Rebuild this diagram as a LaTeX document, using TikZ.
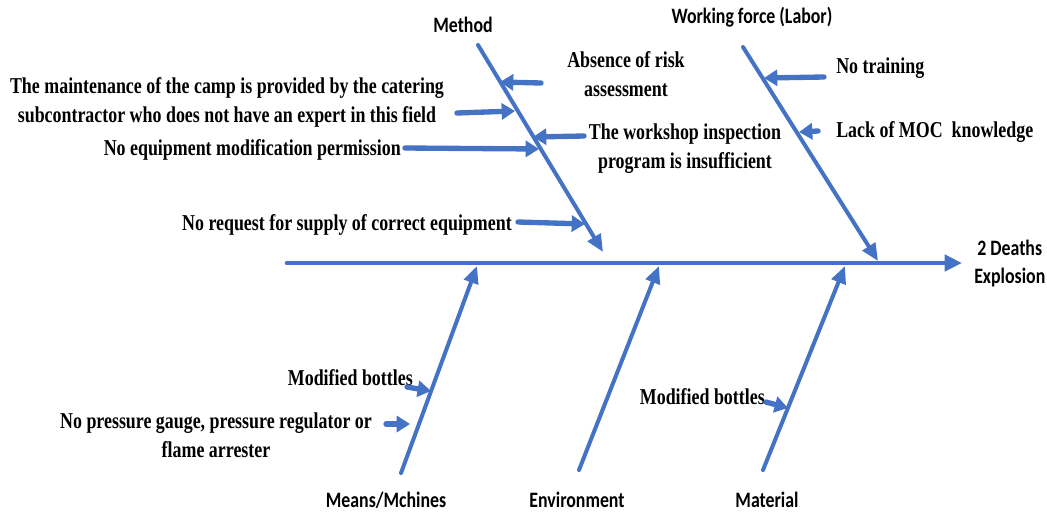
\documentclass[tikz,border=0pt]{standalone}
\usepackage{fontspec}
\usetikzlibrary{arrows.meta}
\newfontfamily\causefont{Liberation Serif}[FakeStretch=0.79]
\newfontfamily\headfont{Carlito}[FakeStretch=0.81]
\definecolor{fishblue}{HTML}{4472C4}
\begin{document}
\begin{tikzpicture}[x=0.75pt,y=-0.75pt,
  head/.style={inner sep=0pt, font=\headfont\bfseries\fontsize{16.5}{21}\selectfont, align=center},
  causetext/.style={inner sep=0pt, font=\causefont\bfseries\fontsize{17}{21.75}\selectfont},
  bone/.style={draw=fishblue, line width=3pt, line cap=round, -{Triangle[length=13pt,width=11pt]}},
  spine/.style={draw=fishblue, line width=3.5pt, line cap=round, -{Triangle[length=13pt,width=12pt]}},
  causearrow/.style={draw=fishblue, line width=4pt, line cap=round, -{Triangle[length=10pt,width=12pt]}}]
\useasboundingbox (0,0) rectangle (1047,515);

% main spine and effect
\coordinate (spS) at (287,263);
\coordinate (spE) at (962,263);
\draw[spine] (spS) -- (spE);
\node[head, anchor=west] (effect) at (974,264) {2 Deaths\\Explosion};

% category labels
\node[head] (method) at (463,25) {Method};
\node[head] (labor) at (752,17) {Working force (Labor)};
\node[head] (means) at (386,500) {Means/Mchines};
\node[head] (env) at (577,500) {Environment};
\node[head] (mat) at (767,500) {Material};

% bones
\coordinate (mS) at (478,45);  \coordinate (mE) at (603,252);
\coordinate (lS) at (743,47);  \coordinate (lE) at (878,261);
\coordinate (aS) at (401,473); \coordinate (aE) at (477,266);
\coordinate (eS) at (579,470); \coordinate (eE) at (659,266);
\coordinate (tS) at (763,470); \coordinate (tE) at (845,266);
\draw[bone] (mS) -- (mE);
\draw[bone] (lS) -- (lE);
\draw[bone] (aS) -- (aE);
\draw[bone] (eS) -- (eE);
\draw[bone] (tS) -- (tE);

% causes: method
\node[causetext, align=center] (absence) at (626,74) {Absence of risk\\assessment};
\node[causetext, align=center] (maint) at (227,102) {The maintenance of the camp is provided by the catering\\subcontractor who does not have an expert in this field};
\node[causetext, align=center] (workshop) at (685,149) {The workshop inspection\\program is insufficient};
\node[causetext, anchor=east] (noequip) at (401,150) {No equipment modification permission};
\node[causetext, anchor=east] (noreq) at (512,225) {No request for supply of correct equipment};

\coordinate (absT) at (541,83);  \coordinate (absH) at (500,82);
\coordinate (mntT) at (457,113); \coordinate (mntH) at (515,111);
\coordinate (wrkT) at (584,136); \coordinate (wrkH) at (533,137);
\coordinate (eqT) at (405,148);  \coordinate (eqH) at (539,149);
\coordinate (rqT) at (518,222);  \coordinate (rqH) at (585,224);
\draw[causearrow] (absT) -- (absH);
\draw[causearrow] (mntT) -- (mntH);
\draw[causearrow] (wrkT) -- (wrkH);
\draw[causearrow] (eqT) -- (eqH);
\draw[causearrow] (rqT) -- (rqH);

% causes: labor
\node[causetext, anchor=west] (notrain) at (836,68) {No training};
\node[causetext, anchor=west] (moc) at (836,132) {Lack of MOC\ \ knowledge};
\coordinate (trT) at (824,77);  \coordinate (trH) at (764,78);
\coordinate (mocT) at (818,131); \coordinate (mocH) at (799,132);
\draw[causearrow] (trT) -- (trH);
\draw[causearrow] (mocT) -- (mocH);

% causes: means/machines
\node[causetext, anchor=east] (mod1) at (413,378) {Modified bottles};
\node[causetext, align=center] (nopress) at (216,435) {No pressure gauge, pressure regulator or\\flame arrester};
\coordinate (m1T) at (407,387); \coordinate (m1H) at (431,391);
\coordinate (npT) at (386,424); \coordinate (npH) at (410,424);
\draw[causearrow] (m1T) -- (m1H);
\draw[causearrow] (npT) -- (npH);

% causes: material
\node[causetext, anchor=east] (mod2) at (765,397) {Modified bottles};
\coordinate (m2T) at (766,402); \coordinate (m2H) at (788,408);
\draw[causearrow] (m2T) -- (m2H);
\end{tikzpicture}
\end{document}
